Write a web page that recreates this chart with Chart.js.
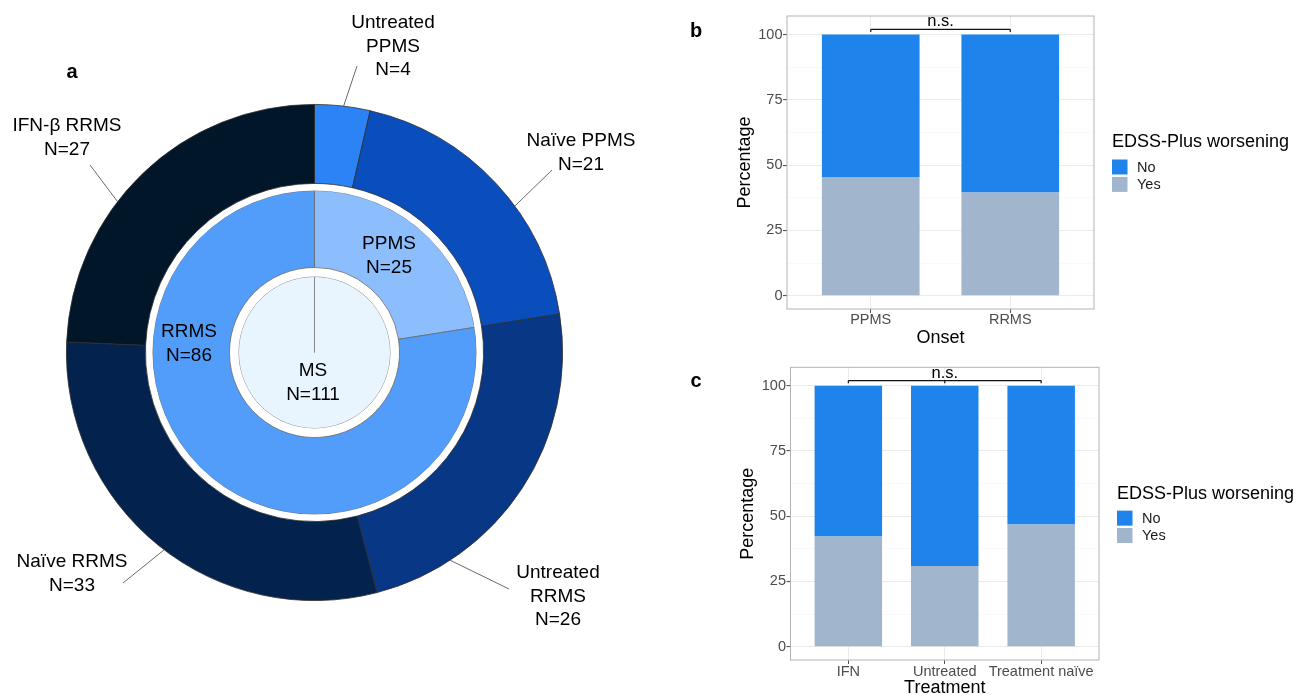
<!DOCTYPE html>
<html>
<head>
<meta charset="utf-8">
<script src="https://cdn.jsdelivr.net/npm/chart.js@4.4.0/dist/chart.umd.min.js"></script>
<style>
  html, body { margin: 0; padding: 0; background: #fff; }
  #wrap { position: relative; width: 1297px; height: 695px; overflow: hidden; }
  canvas { position: absolute; }
</style>
</head>
<body>
<div id="wrap">
  <canvas id="donut" width="690" height="695" style="left:0;top:0"></canvas>
  <canvas id="onsetChart" width="607" height="347" style="left:690px;top:0"></canvas>
  <canvas id="treatChart" width="607" height="347" style="left:690px;top:350px"></canvas>
</div>
<script>
// panel a: cohort breakdown
const subgroupLabels = ["Untreated PPMS", "Naïve PPMS", "Untreated RRMS", "Naïve RRMS", "IFN-β RRMS"];
const subgroupCounts = [4, 21, 26, 33, 27];
const onsetLabels = ["PPMS", "RRMS"];
const onsetCounts = [25, 86];
const totalLabel = "MS";
const totalCount = 111;

// panels b and c: EDSS-Plus worsening (%)
const onsetCats = ["PPMS", "RRMS"];
const onsetYes = [45.4, 39.5];
const onsetNo = [54.6, 60.5];
const treatCats = ["IFN", "Untreated", "Treatment naïve"];
const treatYes = [42.2, 30.9, 46.8];
const treatNo = [57.8, 69.1, 53.2];
const yTickValues = [0, 25, 50, 75, 100];

const FONT = "'Liberation Sans', Arial, sans-serif";
Chart.defaults.font.family = FONT;

const subgroupColors = ["#2b83f6", "#0a4dbd", "#083786", "#03234e", "#02162a"];
const onsetColors = ["#8cbdfc", "#539dfa"];
const NO_COL = "#1e84ec";
const YES_COL = "#a1b5cc";

// label placement for the donut (annotation layout only)
const outerLabelLayout = [
  { t: 0.52, end: [357, 66], text: [393, 23], wrap: true },
  { t: 0.60, end: [552, 170], text: [581, 141], wrap: false },
  { t: 0.78, end: [509, 589], text: [558, 573], wrap: true },
  { t: 0.485, end: [123, 583], text: [72, 562], wrap: false },
  { t: 0.40, end: [90, 165], text: [67, 126], wrap: false },
];
const innerLabelLayout = [[389, 244], [189, 332]];
const centerLabelPos = [313, 371];
const LINE_H = 23.5;

const donutLabels = {
  id: "donutLabels",
  afterDraw(chart) {
    const ctx = chart.ctx;
    const arcs = chart.getDatasetMeta(0).data;
    ctx.save();
    ctx.font = "19px " + FONT;
    ctx.fillStyle = "#000";
    ctx.textAlign = "center";
    ctx.textBaseline = "middle";
    arcs.forEach((arc, i) => {
      const lay = outerLabelLayout[i];
      const a = arc.startAngle + lay.t * (arc.endAngle - arc.startAngle);
      const sx = arc.x + Math.cos(a) * arc.outerRadius;
      const sy = arc.y + Math.sin(a) * arc.outerRadius;
      ctx.strokeStyle = "#444";
      ctx.lineWidth = 0.8;
      ctx.beginPath();
      ctx.moveTo(sx, sy);
      ctx.lineTo(lay.end[0], lay.end[1]);
      ctx.stroke();
      const lines = (lay.wrap ? subgroupLabels[i].split(" ") : [subgroupLabels[i]]).concat("N=" + subgroupCounts[i]);
      lines.forEach((s, k) => ctx.fillText(s, lay.text[0], lay.text[1] + k * LINE_H));
    });
    onsetLabels.forEach((lab, i) => {
      const p = innerLabelLayout[i];
      ctx.fillText(lab, p[0], p[1]);
      ctx.fillText("N=" + onsetCounts[i], p[0], p[1] + LINE_H);
    });
    ctx.fillText(totalLabel, centerLabelPos[0], centerLabelPos[1]);
    ctx.fillText("N=" + totalCount, centerLabelPos[0], centerLabelPos[1] + LINE_H);
    ctx.font = "bold 20px " + FONT;
    ctx.fillText("a", 72, 72);
    ctx.restore();
  }
};

new Chart(document.getElementById("donut"), {
  type: "doughnut",
  data: {
    labels: subgroupLabels,
    datasets: [
      { data: subgroupCounts, backgroundColor: subgroupColors, borderColor: "#2e2e2e", borderWidth: 0.8, weight: 79 },
      { data: [totalCount], backgroundColor: "#fff", borderWidth: 0, weight: 7 },
      { data: onsetCounts, backgroundColor: onsetColors, borderColor: "#6a6a6a", borderWidth: 0.8, weight: 77 },
      { data: [totalCount], backgroundColor: "#fff", borderWidth: 0, weight: 9 },
      { data: [totalCount], backgroundColor: "#e9f5fe", borderColor: "#8a8a8a", borderWidth: 1, weight: 76 },
    ],
  },
  options: {
    responsive: false,
    animation: false,
    events: [],
    cutout: 0,
    layout: { padding: { left: 66, top: 104, right: 127, bottom: 94 } },
    plugins: { legend: { display: false }, tooltip: { enabled: false } },
  },
  plugins: [donutLabels],
});

// stacked bar panels
const panelDeco = {
  id: "panelDeco",
  afterDraw(chart, args, opts) {
    const { ctx, chartArea: a, scales } = chart;
    const x = scales.x, y = scales.y;
    ctx.save();
    ctx.strokeStyle = "#b3b3b3";
    ctx.lineWidth = 1;
    ctx.strokeRect(a.left, a.top, a.right - a.left, a.bottom - a.top);

    // n.s. bracket
    const xs = chart.data.datasets[0].data.map(d => x.getPixelForValue(d.x));
    const by = y.getPixelForValue(102);
    const ty = y.getPixelForValue(101);
    ctx.strokeStyle = "#111";
    ctx.lineWidth = 1.2;
    ctx.beginPath();
    ctx.moveTo(xs[0], by);
    ctx.lineTo(xs[xs.length - 1], by);
    xs.forEach(px => { ctx.moveTo(px, by); ctx.lineTo(px, ty); });
    ctx.stroke();
    ctx.fillStyle = "#000";
    ctx.font = "16.5px " + FONT;
    ctx.textAlign = "center";
    ctx.textBaseline = "alphabetic";
    ctx.fillText("n.s.", (xs[0] + xs[xs.length - 1]) / 2, by - 3);

    // panel letter
    ctx.font = "bold 20px " + FONT;
    ctx.textBaseline = "middle";
    ctx.fillText(opts.letter, 6, 31);

    // legend
    const lx = a.right + 18;
    const cy = (a.top + a.bottom) / 2;
    ctx.textAlign = "left";
    ctx.font = "18px " + FONT;
    ctx.fillText("EDSS-Plus worsening", lx, cy - 20);
    ctx.font = "14.5px " + FONT;
    chart.data.datasets.slice().reverse().forEach((ds, k) => {
      const ky = cy - 3 + k * 17.4;
      ctx.fillStyle = ds.backgroundColor;
      ctx.fillRect(lx, ky, 15.5, 15);
      ctx.fillStyle = "#1a1a1a";
      ctx.fillText(ds.label, lx + 25, ky + 8);
    });
    ctx.restore();
  }
};

const yBreaks = [];
yTickValues.forEach((v, i) => {
  yBreaks.push(v);
  if (i < yTickValues.length - 1) yBreaks.push((v + yTickValues[i + 1]) / 2);
});
const isMajor = v => yTickValues.includes(v);

function stackedChart(id, cats, yes, no, L) {
  const xs = cats.map((_, i) => i + 1);
  return new Chart(document.getElementById(id), {
    type: "bar",
    data: {
      datasets: [
        { label: "Yes", data: xs.map((v, i) => ({ x: v, y: yes[i] })), backgroundColor: YES_COL, borderWidth: 0 },
        { label: "No", data: xs.map((v, i) => ({ x: v, y: no[i] })), backgroundColor: NO_COL, borderWidth: 0 },
      ],
    },
    options: {
      responsive: false,
      animation: false,
      events: [],
      barPercentage: 0.7,
      categoryPercentage: 1,
      layout: { padding: { top: L.top, right: L.right, left: 0, bottom: 0 } },
      scales: {
        x: {
          type: "linear",
          stacked: true,
          min: 0.4,
          max: cats.length + 0.6,
          offset: false,
          afterBuildTicks: s => { s.ticks = xs.map(v => ({ value: v })); },
          afterFit: s => { s.height = L.xh; },
          ticks: {
            callback: v => cats[v - 1],
            color: "#4d4d4d",
            font: { size: 14.5, lineHeight: 1 },
            padding: L.xpad,
            maxRotation: 0,
            autoSkip: false,
          },
          grid: { offset: false, color: "#ebebeb", lineWidth: 1, tickLength: 4, tickColor: "#555" },
          border: { display: false },
          title: { display: true, text: L.xTitle, color: "#000", font: { size: 18, lineHeight: 1 }, padding: 0 },
        },
        y: {
          stacked: true,
          min: -5.1,
          max: 107.1,
          afterBuildTicks: s => { s.ticks = yBreaks.map(v => ({ value: v })); },
          afterFit: s => { s.width = L.yw; },
          ticks: {
            callback: v => (isMajor(v) ? String(v) : ""),
            color: "#4d4d4d",
            font: { size: 14.5 },
            padding: 0.5,
            autoSkip: false,
          },
          grid: {
            color: c => (isMajor(c.tick.value) ? "#ebebeb" : "#f5f5f5"),
            lineWidth: c => (isMajor(c.tick.value) ? 1.1 : 0.6),
            tickColor: c => (isMajor(c.tick.value) ? "#555" : "rgba(0,0,0,0)"),
            tickLength: 4,
          },
          border: { display: false },
          title: { display: true, text: "Percentage", color: "#000", font: { size: 18, lineHeight: 1 }, padding: { top: L.ytp, bottom: 0 } },
        },
      },
      plugins: { legend: { display: false }, tooltip: { enabled: false }, panelDeco: { letter: L.letter } },
    },
    plugins: [panelDeco],
  });
}

stackedChart("onsetChart", onsetCats, onsetYes, onsetNo,
  { letter: "b", xTitle: "Onset", top: 16, right: 203, yw: 97, xh: 38, xpad: 0, ytp: 46 });
stackedChart("treatChart", treatCats, treatYes, treatNo,
  { letter: "c", xTitle: "Treatment", top: 17.3, right: 198, yw: 100.5, xh: 37, xpad: 1, ytp: 49.5 });
</script>
</body>
</html>
